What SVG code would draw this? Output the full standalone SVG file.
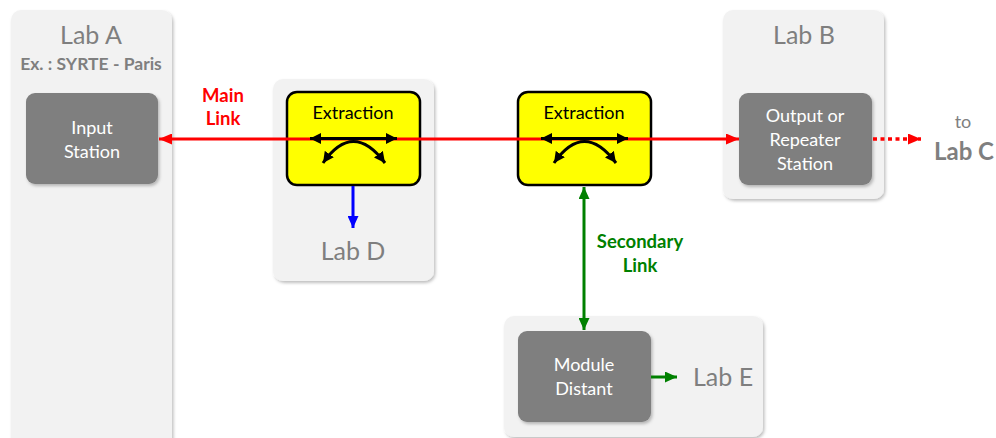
<svg xmlns="http://www.w3.org/2000/svg" width="996" height="438" viewBox="0 0 996 438">
<defs>
<filter id="sh" x="-10%" y="-10%" width="130%" height="130%">
<feDropShadow dx="1.5" dy="2" stdDeviation="1.5" flood-color="#000" flood-opacity="0.25"/>
</filter>
<marker id="mr" markerUnits="userSpaceOnUse" markerWidth="13" markerHeight="11" refX="13" refY="5.5" orient="auto-start-reverse"><path d="M0,0 L13,5.5 L0,11 z" fill="#ff0000"/></marker>
<marker id="mg" markerUnits="userSpaceOnUse" markerWidth="12" markerHeight="11" refX="12" refY="5.5" orient="auto-start-reverse"><path d="M0,0 L12,5.5 L0,11 z" fill="#008000"/></marker>
<marker id="mb" markerUnits="userSpaceOnUse" markerWidth="12" markerHeight="11" refX="12" refY="5.5" orient="auto-start-reverse"><path d="M0,0 L12,5.5 L0,11 z" fill="#0000ff"/></marker>
<marker id="mk" markerUnits="userSpaceOnUse" markerWidth="11" markerHeight="11" refX="11" refY="5.5" orient="auto-start-reverse"><path d="M0,0 L11,5.5 L0,11 z" fill="#000"/></marker>
</defs>
<style>
.panel{fill:#f2f2f2;filter:url(#sh)}
.gbox{fill:#7f7f7f;filter:url(#sh)}
.ybox{fill:#ffff00;stroke:#000;stroke-width:2.5}
.title{font-family:Lato,"Open Sans",sans-serif;font-size:25px;fill:#7f7f7f;text-anchor:middle}
.btxt{font-family:Lato,"Open Sans",sans-serif;font-size:18px;fill:#ffffff;text-anchor:middle}
.ytxt{font-family:Lato,"Open Sans",sans-serif;font-size:18px;fill:#000;text-anchor:middle}
.lbl{font-family:Lato,"Open Sans",sans-serif;font-size:18.5px;font-weight:bold;text-anchor:middle}
.karrow{stroke:#000;stroke-width:3;fill:none}
</style>
<rect width="996" height="438" fill="#ffffff"/>

<g id="labA">
<rect class="panel" x="11" y="10" width="161" height="450" rx="10"/>
<text class="title" x="91" y="44">Lab A</text>
<text x="91" y="70" font-family="Lato,'Open Sans',sans-serif" font-size="17.5" font-weight="bold" fill="#7f7f7f" text-anchor="middle">Ex. : SYRTE - Paris</text>
</g>
<g id="labD">
<rect class="panel" x="273" y="79" width="161" height="202" rx="10"/>
<text class="title" x="353" y="260">Lab D</text>
</g>
<g id="labB">
<rect class="panel" x="723" y="10" width="161" height="189" rx="10"/>
<text class="title" x="804" y="44">Lab B</text>
</g>
<g id="labE">
<rect class="panel" x="504" y="316" width="259" height="121" rx="10"/>
<text class="title" x="693" y="386" style="text-anchor:start">Lab E</text>
</g>

<g id="input">
<rect class="gbox" x="26" y="93" width="132" height="91" rx="9"/>
<text class="btxt" x="92" y="134">Input</text>
<text class="btxt" x="92" y="158">Station</text>
</g>
<g id="output">
<rect class="gbox" x="739" y="93" width="133" height="92" rx="9"/>
<text class="btxt" x="805" y="122">Output or</text>
<text class="btxt" x="805" y="146">Repeater</text>
<text class="btxt" x="805" y="170">Station</text>
</g>
<g id="module">
<rect class="gbox" x="518" y="331" width="133" height="91" rx="9"/>
<text class="btxt" x="584" y="371">Module</text>
<text class="btxt" x="584" y="395">Distant</text>
</g>
<g id="extraction1">
<rect class="ybox" x="287" y="92" width="133" height="93" rx="10"/>
<text class="ytxt" x="353" y="119">Extraction</text>
</g>
<g id="extraction2">
<rect class="ybox" x="518" y="92" width="133" height="93" rx="10"/>
<text class="ytxt" x="584" y="119">Extraction</text>
</g>
<g id="labC">
<text x="963" y="128" font-family="Lato,'Open Sans',sans-serif" font-size="18" fill="#7f7f7f" text-anchor="middle">to</text>
<text x="964" y="160" font-family="Lato,'Open Sans',sans-serif" font-size="24" font-weight="bold" fill="#7f7f7f" text-anchor="middle">Lab C</text>
</g>

<g id="connectors">
<line x1="159" y1="139" x2="739" y2="139" stroke="#ff0000" stroke-width="3" marker-start="url(#mr)" marker-end="url(#mr)"/>
<line x1="873" y1="139" x2="921" y2="139" stroke="#ff0000" stroke-width="3.5" stroke-dasharray="4 3.5" marker-end="url(#mr)"/>
<line x1="310" y1="138.5" x2="397" y2="138.5" class="karrow" marker-start="url(#mk)" marker-end="url(#mk)"/>
<path d="M323,163 Q353,120 385,163" class="karrow" marker-start="url(#mk)" marker-end="url(#mk)"/>
<line x1="541" y1="138.5" x2="628" y2="138.5" class="karrow" marker-start="url(#mk)" marker-end="url(#mk)"/>
<path d="M554,163 Q584,120 616,163" class="karrow" marker-start="url(#mk)" marker-end="url(#mk)"/>
<line x1="353" y1="186" x2="353" y2="228" stroke="#0000ff" stroke-width="3" marker-end="url(#mb)"/>
<line x1="584" y1="187" x2="584" y2="330" stroke="#008000" stroke-width="3" marker-start="url(#mg)" marker-end="url(#mg)"/>
<line x1="651" y1="377" x2="677" y2="377" stroke="#008000" stroke-width="3" marker-end="url(#mg)"/>
<text class="lbl" x="223" y="102" fill="#ff0000">Main</text>
<text class="lbl" x="223" y="125" fill="#ff0000">Link</text>
<text class="lbl" x="640" y="248" fill="#008000">Secondary</text>
<text class="lbl" x="640" y="272" fill="#008000">Link</text>
</g>
</svg>
